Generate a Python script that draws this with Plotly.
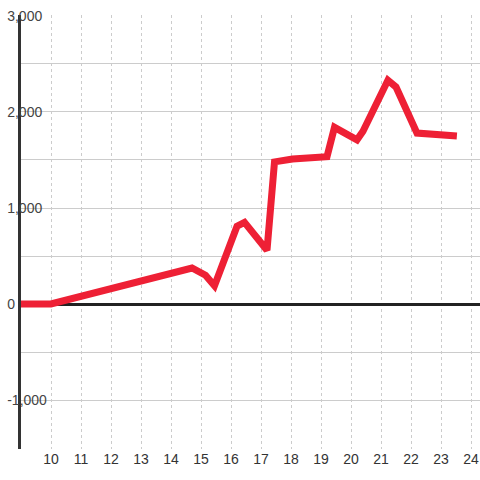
import plotly.graph_objects as go

# values
hours = [9, 10, 14.7, 15.15, 15.45, 16.2, 16.45, 17.2, 17.45, 18.05, 19.2, 19.45,
         20.2, 20.4, 21.23, 21.5, 22.2, 23.53]
totals = [0, 0, 375, 300, 190, 810, 850, 560, 1480, 1510, 1535, 1840,
          1710, 1800, 2330, 2260, 1780, 1750]
x_ticks = list(range(10, 25))
y_ticks = [-1000, 0, 1000, 2000, 3000]
y_labels = ['-1,000', '0', '1,000', '2,000', '3,000']
y_minor = [-1500, -500, 500, 1500, 2500]

fig = go.Figure()
fig.add_trace(go.Scatter(x=hours, y=totals, mode='lines',
                         line=dict(color='#EE2035', width=7),
                         hoverinfo='x+y', showlegend=False))

fig.update_layout(
    width=480, height=480,
    margin=dict(l=21, r=0, t=15, b=31),
    paper_bgcolor='white', plot_bgcolor='white',
    font=dict(family='Liberation Sans, Arial, sans-serif', size=14, color='#333333'),
)

fig.update_xaxes(
    range=[9, 24.3], tickvals=x_ticks, ticks='', automargin=False,
    showgrid=True, gridcolor='#cccccc', gridwidth=1, griddash='dot',
    showline=False, zeroline=False, fixedrange=True,
)
fig.update_yaxes(
    range=[-1510, 3010], tickvals=y_ticks, ticktext=y_labels, ticks='',
    automargin=False, ticklabelposition='inside', ticklabelstandoff=-14,
    ticklabeloverflow='allow',
    showgrid=True, gridcolor='#cccccc', gridwidth=1,
    minor=dict(tickvals=y_minor, showgrid=True, gridcolor='#cccccc', gridwidth=1),
    showline=True, linecolor='#333333', linewidth=3,
    zeroline=True, zerolinecolor='#222222', zerolinewidth=3,
    fixedrange=True,
)

# drop the page's default body margin so the chart sits at the window corner
fig.write_html("out.html", config={'displayModeBar': False},
               post_script="document.body.style.margin='0';")
